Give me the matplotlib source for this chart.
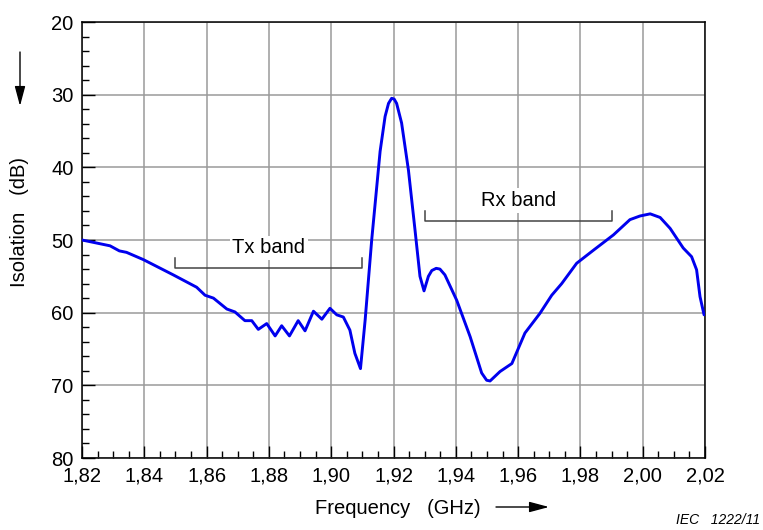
import matplotlib
matplotlib.use("Agg")
import matplotlib.pyplot as plt
from matplotlib.patches import FancyArrowPatch
from matplotlib.ticker import MultipleLocator, FuncFormatter

plt.rcParams['font.family'] = ['Liberation Sans', 'DejaVu Sans']

freq = [1.820, 1.829, 1.832, 1.8343, 1.8397, 1.8493, 1.8568, 1.8595, 1.8622, 1.8665,
        1.8691, 1.8723, 1.8745, 1.8766, 1.8793, 1.882, 1.8841, 1.8866, 1.8894, 1.8916,
        1.8943, 1.897, 1.8996, 1.9018, 1.9039, 1.906, 1.9076, 1.9094, 1.9109, 1.913,
        1.9157, 1.9173, 1.9184, 1.9194, 1.9202, 1.921, 1.9226, 1.9248, 1.9269, 1.9285,
        1.9298, 1.9312, 1.9323, 1.9337, 1.9349, 1.9365, 1.9403, 1.9446, 1.9483, 1.9499,
        1.951, 1.9542, 1.958, 1.9622, 1.967, 1.9708, 1.974, 1.9788, 1.9842, 1.9906,
        1.9959, 1.9991, 2.0024, 2.0056, 2.0088, 2.013, 2.0157, 2.0173, 2.0184, 2.0197]
isol = [50.0, 50.8, 51.5, 51.7, 52.7, 54.8, 56.5, 57.6, 58.0, 59.5,
        59.9, 61.1, 61.1, 62.3, 61.5, 63.2, 61.8, 63.2, 61.1, 62.5,
        59.8, 60.9, 59.4, 60.3, 60.6, 62.4, 65.6, 67.7, 61.0, 50.0,
        37.8, 33.0, 31.2, 30.5, 30.6, 31.2, 33.9, 40.4, 48.6, 55.0,
        57.0, 55.0, 54.2, 53.9, 54.0, 54.8, 58.3, 63.3, 68.3, 69.3,
        69.4, 68.1, 67.0, 62.8, 60.1, 57.6, 56.0, 53.2, 51.4, 49.3,
        47.2, 46.7, 46.4, 46.9, 48.4, 51.1, 52.3, 54.1, 57.8, 60.3]

bands = ["Tx band", "Rx band"]
band_start = [1.85, 1.93]
band_end = [1.91, 1.99]
band_level = [53.9, 47.4]

fig = plt.figure(figsize=(7.63, 5.30), dpi=100)
ax = fig.add_axes([82/763, 1-458/530, (705-82)/763, (458-22)/530])

ax.set_xlim(1.82, 2.02)
ax.set_ylim(80, 20)
ax.xaxis.set_major_locator(MultipleLocator(0.02))
ax.xaxis.set_minor_locator(MultipleLocator(0.005))
ax.yaxis.set_major_locator(MultipleLocator(10))
ax.yaxis.set_minor_locator(MultipleLocator(2))
ax.xaxis.set_major_formatter(FuncFormatter(lambda v, p: f"{v:.2f}".replace('.', ',')))
ax.yaxis.set_major_formatter(FuncFormatter(lambda v, p: f"{v:.0f}"))
ax.tick_params(which='major', direction='in', length=9, width=1, labelsize=14.5,
               top=False, right=False)
ax.tick_params(axis='x', which='major', pad=6)
ax.tick_params(axis='y', which='major', pad=6)
ax.tick_params(which='minor', direction='in', length=5, width=1, top=False, right=False)
ax.grid(True, which='major', color='#9a9a9a', linewidth=1.1)
for s in ax.spines.values():
    s.set_linewidth(1.1)

ax.plot(freq, isol, color='#0000ee', linewidth=2.1, zorder=4,
        solid_joinstyle='round', solid_capstyle='round')

for name, x0, x1, lv in zip(bands, band_start, band_end, band_level):
    ax.plot([x0, x0, x1, x1], [lv - 1.4, lv, lv, lv - 1.4], color='#444444', linewidth=1.1, zorder=3)
    ax.text((x0 + x1) / 2, lv - 2.8, name, ha='center', va='center', fontsize=14.5,
            zorder=3, bbox=dict(facecolor='white', edgecolor='none', pad=2))

fig.text(20/763, 1-222/530, "Isolation   (dB)", rotation=90, ha='center', va='center', fontsize=14.5)
fig.text(398/763, 1-508/530, "Frequency   (GHz)", ha='center', va='center', fontsize=14.5)
fig.text(760/763, 1-520/530, "IEC   1222/11", ha='right', va='center', fontsize=10, style='italic')

fig.add_artist(FancyArrowPatch((20/763, 1-52/530), (20/763, 1-106/530),
               transform=fig.transFigure, arrowstyle='-|>,head_length=6,head_width=1.6',
               color='black', linewidth=1, mutation_scale=2, shrinkA=0, shrinkB=0))
fig.add_artist(FancyArrowPatch((496/763, 1-507/530), (549/763, 1-507/530),
               transform=fig.transFigure, arrowstyle='-|>,head_length=6,head_width=1.6',
               color='black', linewidth=1, mutation_scale=2, shrinkA=0, shrinkB=0))

fig.savefig("out.png", dpi=100)
